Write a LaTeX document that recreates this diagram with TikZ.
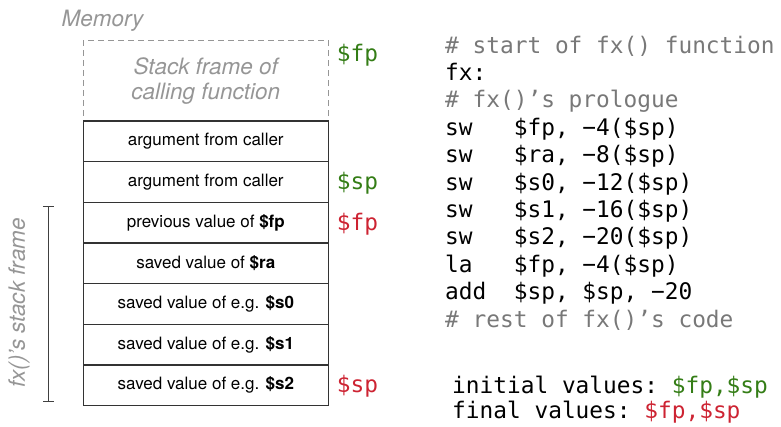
\documentclass[tikz,border=0pt]{standalone}
\usepackage{fontspec}
\setsansfont{TeX Gyre Heros}
\setmonofont{DejaVu Sans Mono}
\usepackage{xcolor}
\usetikzlibrary{positioning,arrows.meta}

\definecolor{oldreg}{RGB}{52,125,22}
\definecolor{newreg}{RGB}{205,35,50}
\definecolor{notegray}{RGB}{150,150,150}
\definecolor{commentgray}{RGB}{120,120,120}

\tikzset{
	cell/.style={draw=black!80,line width=1.1pt,minimum width=245pt,minimum height=40.67pt,
		inner sep=0pt,outer sep=0pt,font=\sffamily\fontsize{17}{20}\selectfont},
	callerbox/.style={draw=notegray,line width=1.1pt,dash pattern=on 6pt off 4pt,
		minimum width=245pt,minimum height=80.3pt,inner sep=0pt,outer sep=0pt,align=center},
	note/.style={text=notegray,font=\sffamily\itshape\fontsize{22.5}{25}\selectfont},
	reg/.style={font=\ttfamily\fontsize{22.8}{27.4}\selectfont,inner sep=0pt,anchor=base west},
	code/.style={font=\ttfamily\fontsize{22.8}{27.4}\selectfont,inner sep=0pt,align=left,anchor=base west}
}

\begin{document}
\begin{tikzpicture}[x=1pt,y=-1pt]
	\useasboundingbox (0,0) rectangle (781,426);
	\node[note,anchor=base] (mem) at (102.5,26) {Memory};
	\node[callerbox,note] (caller) at (205.8,80.85) {Stack frame of\\calling function};
	\node[cell,below=0pt of caller] (r1) {argument from caller};
	\node[cell,below=0pt of r1] (r2) {argument from caller};
	\node[cell,below=0pt of r2] (r3) {previous value of \textbf{\$fp}};
	\node[cell,below=0pt of r3] (r4) {saved value of \textbf{\$ra}};
	\node[cell,below=0pt of r4] (r5) {saved value of e.g. \textbf{\$s0}};
	\node[cell,below=0pt of r5] (r6) {saved value of e.g. \textbf{\$s1}};
	\node[cell,below=0pt of r6] (r7) {saved value of e.g. \textbf{\$s2}};
	% register labels
	\node[reg,text=oldreg] (fpold) at ([xshift=8.4pt,yshift=-21pt]caller.north east) {\$fp};
	\node[reg,text=oldreg] (spold) at ([xshift=8.4pt,yshift=-7.5pt]r2.east) {\$sp};
	\node[reg,text=newreg] (fpnew) at ([xshift=8.4pt,yshift=-7.5pt]r3.east) {\$fp};
	\node[reg,text=newreg] (spnew) at ([xshift=8.4pt,yshift=-7.5pt]r7.east) {\$sp};
	% frame bracket
	\coordinate (ftop) at (48.3,205.7);
	\coordinate (fbot) at (48.3,401.7);
	\draw[draw=black!75,line width=1.1pt,{Bar[width=11pt]}-{Bar[width=11pt]}] (ftop) -- (fbot);
	\node[note,rotate=90] (framelbl) at (19,303) {fx()'s stack frame};
	% prologue code (base = last line)
	\node[code] (prologue) at (445,327) {%
		{\color{commentgray}\# start of fx() function}\\
		fx:\\
		{\color{commentgray}\# fx()’s prologue}\\
		sw~~~\$fp, −4(\$sp)\\
		sw~~~\$ra, −8(\$sp)\\
		sw~~~\$s0, −12(\$sp)\\
		sw~~~\$s1, −16(\$sp)\\
		sw~~~\$s2, −20(\$sp)\\
		la~~~\$fp, −4(\$sp)\\
		add~~\$sp, \$sp, −20\\
		{\color{commentgray}\# rest of fx()’s code}};
	\node[code] (initvals) at (452,393) {initial values: {\color{oldreg}\$fp,\$sp}};
	\node[code] (finalvals) at (452,418) {final values: {\color{newreg}\$fp,\$sp}};
\end{tikzpicture}
\end{document}
